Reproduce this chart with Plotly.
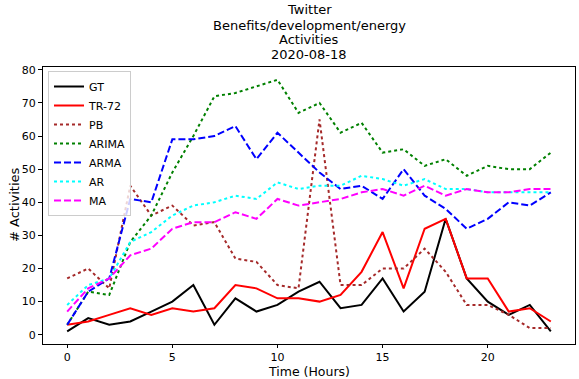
import plotly.graph_objects as go

hours = list(range(24))
GT = [1, 5, 3, 4, 7, 10, 15, 3, 11, 7, 9, 13, 16, 8, 9, 17, 7, 13, 35, 17, 10, 6, 9, 1]
TR72 = [3, 4, 6, 8, 6, 8, 7, 8, 15, 14, 11, 11, 10, 12, 19, 31, 14, 32, 35, 17, 17, 7, 8, 4]
PB = [17, 20, 14, 45, 36, 39, 33, 34, 23, 22, 15, 14, 65, 15, 15, 20, 20, 26, 19, 9, 9, 6, 2, 2]
ARIMA = [3, 13, 12, 28, 36, 49, 60, 72, 73, 75, 77, 67, 70, 61, 64, 55, 56, 51, 53, 48, 51, 50, 50, 55]
ARMA = [3, 13, 17, 41, 40, 59, 59, 60, 63, 53, 61, 55, 49, 44, 45, 41, 50, 42, 38, 32, 35, 40, 39, 43]
AR = [9, 15, 17, 28, 31, 36, 39, 40, 42, 41, 46, 44, 45, 45, 48, 47, 45, 47, 44, 44, 43, 43, 43, 43]
MA = [7, 14, 17, 24, 26, 32, 34, 34, 37, 35, 41, 39, 40, 41, 43, 44, 42, 45, 42, 44, 43, 43, 44, 44]

title_lines = ["Twitter", "Benefits/development/energy", "Activities", "2020-08-18"]
x_tick_vals = [0, 5, 10, 15, 20]
y_tick_vals = [0, 10, 20, 30, 40, 50, 60, 70, 80]

series = [
    ("GT", GT, "black", "solid"),
    ("TR-72", TR72, "red", "solid"),
    ("PB", PB, "#a52a2a", "dot"),
    ("ARIMA", ARIMA, "green", "dot"),
    ("ARMA", ARMA, "blue", "7px,3px"),
    ("AR", AR, "cyan", "dot"),
    ("MA", MA, "magenta", "7px,3px"),
]

FONT = "DejaVu Sans"
fig = go.Figure()
for name, vals, color, dash in series:
    fig.add_trace(go.Scatter(x=hours, y=vals, mode="lines", name=name,
                             line=dict(color=color, width=2, dash=dash)))

L, R, T, B = 43, 4, 67, 35
W, H = 579, 379
pw, ph = W - L - R, H - T - B

def py(pix):
    return 1 + (T - pix) / ph

def px(pix):
    return (pix - L) / pw

annotations = []
for line, ypix in zip(title_lines, [9.5, 25, 39.5, 54]):
    annotations.append(dict(text=line, xref="paper", yref="paper", x=px(309), y=py(ypix),
                            xanchor="center", yanchor="middle", showarrow=False,
                            font=dict(family=FONT, size=13, color="black")))
annotations.append(dict(text="Time (Hours)", xref="paper", yref="paper", x=px(309), y=py(371),
                        xanchor="center", yanchor="middle", showarrow=False,
                        font=dict(family=FONT, size=12.5, color="black")))
annotations.append(dict(text="# Activities", xref="paper", yref="paper", x=px(14), y=py(205),
                        xanchor="center", yanchor="middle", showarrow=False, textangle=-90,
                        font=dict(family=FONT, size=13, color="black")))

fig.update_layout(
    width=W, height=H,
    margin=dict(l=L, r=R, t=T, b=B),
    paper_bgcolor="white", plot_bgcolor="white",
    font=dict(family=FONT, size=11, color="black"),
    showlegend=True,
    legend=dict(x=px(48), y=py(71), xanchor="left", yanchor="top",
                bgcolor="rgba(255,255,255,0.8)", bordercolor="#cccccc", borderwidth=1,
                font=dict(family=FONT, size=11), tracegroupgap=0, itemwidth=30),
    annotations=annotations,
    xaxis=dict(range=[-1.15, 24.15], tickvals=x_tick_vals, ticks="outside", ticklen=3,
               tickcolor="black", showgrid=False, zeroline=False, showline=True,
               linecolor="black", linewidth=1, mirror=True,
               tickfont=dict(family=FONT, size=11)),
    yaxis=dict(range=[-2.8, 80.85], tickvals=y_tick_vals, ticks="outside", ticklen=4,
               tickcolor="black", showgrid=False, zeroline=False, showline=True,
               linecolor="black", linewidth=1, mirror=True,
               tickfont=dict(family=FONT, size=11)),
)

fig.write_html("out.html")
